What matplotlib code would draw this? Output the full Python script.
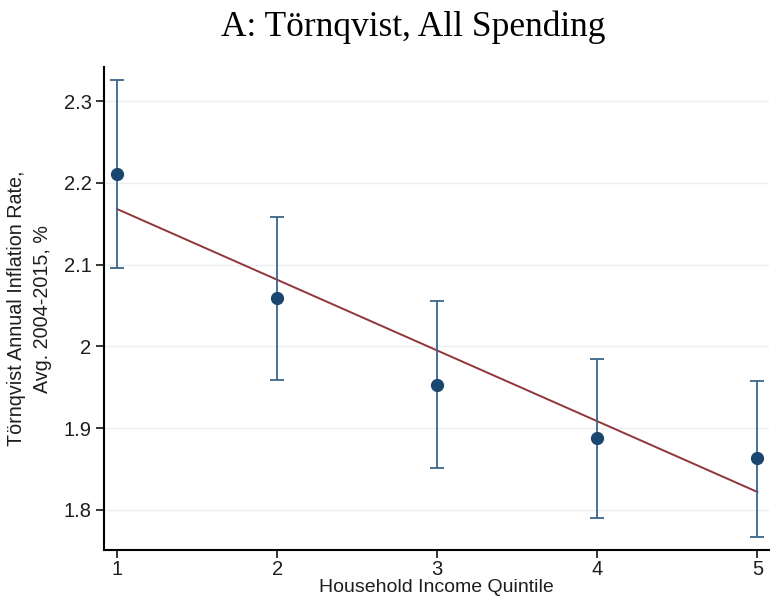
import numpy as np
import matplotlib
matplotlib.use("Agg")
import matplotlib.pyplot as plt
from matplotlib.ticker import FuncFormatter

# Average annual Törnqvist inflation by household income quintile, with 95% CIs
quintiles = [1, 2, 3, 4, 5]
inflation = [2.211, 2.059, 1.953, 1.888, 1.864]
ci_upper = [2.326, 2.158, 2.055, 1.985, 1.958]
ci_lower = [2.096, 1.959, 1.851, 1.790, 1.767]
y_ticks = [1.8, 1.9, 2.0, 2.1, 2.2, 2.3]

title = "A: Törnqvist, All Spending"
x_label = "Household Income Quintile"
y_label = "Törnqvist Annual Inflation Rate,\nAvg. 2004-2015, %"

navy = "#1a476f"
bar_col = "#3a6689"
fit_col = "#90353b"
grid_col = "#e8f0f2"
text_col = "#1e1e1e"

fig = plt.figure(figsize=(7.71, 6.0), dpi=100)
ax = fig.add_axes([0.1349, 0.0833, 0.862, 0.805])

x = np.array(quintiles, dtype=float)
y = np.array(inflation)
lo = y - np.array(ci_lower)
hi = np.array(ci_upper) - y

# Linear fit across quintiles
slope, intercept = np.polyfit(x, y, 1)
ax.plot(x, intercept + slope * x, color=fit_col, lw=1.4, zorder=2)

ax.errorbar(x, y, yerr=[lo, hi], fmt="none", ecolor=bar_col, elinewidth=1.3,
            capsize=5, capthick=1.3, zorder=3)
ax.plot(x, y, "o", color=navy, markersize=8.5, zorder=4)

ax.set_xlim(0.919, 5.07)
ax.set_ylim(1.751, 2.3416)
ax.set_xticks(quintiles)
ax.set_yticks(y_ticks)
ax.yaxis.set_major_formatter(FuncFormatter(lambda v, p: f"{v:g}"))
ax.grid(axis="y", color=grid_col, lw=1.0)
ax.set_axisbelow(True)

for s in ["top", "right"]:
    ax.spines[s].set_visible(False)
for s in ["left", "bottom"]:
    ax.spines[s].set_linewidth(1.5)
    ax.spines[s].set_color("black")

ax.tick_params(direction="out", length=6, width=1.1, labelsize=14.5,
               colors="black", labelcolor=text_col, pad=3)
ax.tick_params(axis="x", pad=1.5)
for lab in ax.get_xticklabels() + ax.get_yticklabels():
    lab.set_family("Liberation Sans")

ax.set_xlabel(x_label, family="Liberation Sans", fontsize=14, color=text_col, labelpad=0)
ax.set_ylabel(y_label, family="Liberation Sans", fontsize=14.2, color=text_col,
              labelpad=8, linespacing=1.5)
fig.text(0.5357, 0.955, title, family="Liberation Serif", fontsize=25.5,
         ha="center", va="center")

fig.savefig("out.png", dpi=100)
